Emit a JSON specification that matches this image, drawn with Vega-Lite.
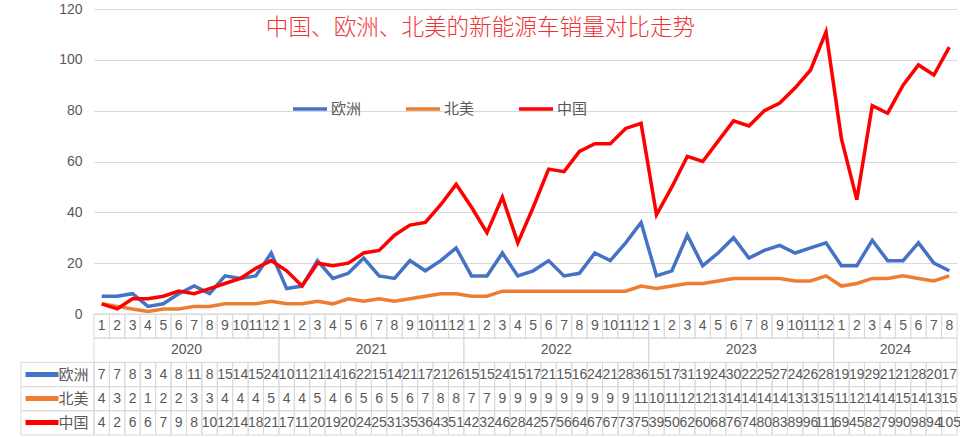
{
  "$schema": "https://vega.github.io/schema/vega-lite/v6.json",
  "width": 863,
  "height": 426,
  "autosize": {"type": "none"},
  "padding": {"left": 94, "top": 9, "right": 3, "bottom": 2},
  "background": "white",
  "title": {"text": "中国、欧洲、北美的新能源车销量对比走势", "color": "#EE3333", "fontSize": 22.6, "font": "Noto Sans CJK SC", "fontWeight": 300, "anchor": "middle", "frame": "group", "offset": -38, "dx": -45},
  "config": {"view": {"stroke": null}, "font": "Liberation Sans"},
  "datasets": {
    "d": [
      {"k":"2020-01","m":1,"欧洲":7,"北美":4,"中国":4},
      {"k":"2020-02","m":2,"欧洲":7,"北美":3,"中国":2},
      {"k":"2020-03","m":3,"欧洲":8,"北美":2,"中国":6},
      {"k":"2020-04","m":4,"欧洲":3,"北美":1,"中国":6},
      {"k":"2020-05","m":5,"欧洲":4,"北美":2,"中国":7},
      {"k":"2020-06","m":6,"欧洲":8,"北美":2,"中国":9},
      {"k":"2020-07","m":7,"欧洲":11,"北美":3,"中国":8},
      {"k":"2020-08","m":8,"欧洲":8,"北美":3,"中国":10},
      {"k":"2020-09","m":9,"欧洲":15,"北美":4,"中国":12},
      {"k":"2020-10","m":10,"欧洲":14,"北美":4,"中国":14},
      {"k":"2020-11","m":11,"欧洲":15,"北美":4,"中国":18},
      {"k":"2020-12","m":12,"欧洲":24,"北美":5,"中国":21},
      {"k":"2021-01","m":1,"欧洲":10,"北美":4,"中国":17},
      {"k":"2021-02","m":2,"欧洲":11,"北美":4,"中国":11},
      {"k":"2021-03","m":3,"欧洲":21,"北美":5,"中国":20},
      {"k":"2021-04","m":4,"欧洲":14,"北美":4,"中国":19},
      {"k":"2021-05","m":5,"欧洲":16,"北美":6,"中国":20},
      {"k":"2021-06","m":6,"欧洲":22,"北美":5,"中国":24},
      {"k":"2021-07","m":7,"欧洲":15,"北美":6,"中国":25},
      {"k":"2021-08","m":8,"欧洲":14,"北美":5,"中国":31},
      {"k":"2021-09","m":9,"欧洲":21,"北美":6,"中国":35},
      {"k":"2021-10","m":10,"欧洲":17,"北美":7,"中国":36},
      {"k":"2021-11","m":11,"欧洲":21,"北美":8,"中国":43},
      {"k":"2021-12","m":12,"欧洲":26,"北美":8,"中国":51},
      {"k":"2022-01","m":1,"欧洲":15,"北美":7,"中国":42},
      {"k":"2022-02","m":2,"欧洲":15,"北美":7,"中国":32},
      {"k":"2022-03","m":3,"欧洲":24,"北美":9,"中国":46},
      {"k":"2022-04","m":4,"欧洲":15,"北美":9,"中国":28},
      {"k":"2022-05","m":5,"欧洲":17,"北美":9,"中国":42},
      {"k":"2022-06","m":6,"欧洲":21,"北美":9,"中国":57},
      {"k":"2022-07","m":7,"欧洲":15,"北美":9,"中国":56},
      {"k":"2022-08","m":8,"欧洲":16,"北美":9,"中国":64},
      {"k":"2022-09","m":9,"欧洲":24,"北美":9,"中国":67},
      {"k":"2022-10","m":10,"欧洲":21,"北美":9,"中国":67},
      {"k":"2022-11","m":11,"欧洲":28,"北美":9,"中国":73},
      {"k":"2022-12","m":12,"欧洲":36,"北美":11,"中国":75},
      {"k":"2023-01","m":1,"欧洲":15,"北美":10,"中国":39},
      {"k":"2023-02","m":2,"欧洲":17,"北美":11,"中国":50},
      {"k":"2023-03","m":3,"欧洲":31,"北美":12,"中国":62},
      {"k":"2023-04","m":4,"欧洲":19,"北美":12,"中国":60},
      {"k":"2023-05","m":5,"欧洲":24,"北美":13,"中国":68},
      {"k":"2023-06","m":6,"欧洲":30,"北美":14,"中国":76},
      {"k":"2023-07","m":7,"欧洲":22,"北美":14,"中国":74},
      {"k":"2023-08","m":8,"欧洲":25,"北美":14,"中国":80},
      {"k":"2023-09","m":9,"欧洲":27,"北美":14,"中国":83},
      {"k":"2023-10","m":10,"欧洲":24,"北美":13,"中国":89},
      {"k":"2023-11","m":11,"欧洲":26,"北美":13,"中国":96},
      {"k":"2023-12","m":12,"欧洲":28,"北美":15,"中国":111},
      {"k":"2024-01","m":1,"欧洲":19,"北美":11,"中国":69},
      {"k":"2024-02","m":2,"欧洲":19,"北美":12,"中国":45},
      {"k":"2024-03","m":3,"欧洲":29,"北美":14,"中国":82},
      {"k":"2024-04","m":4,"欧洲":21,"北美":14,"中国":79},
      {"k":"2024-05","m":5,"欧洲":21,"北美":15,"中国":90},
      {"k":"2024-06","m":6,"欧洲":28,"北美":14,"中国":98},
      {"k":"2024-07","m":7,"欧洲":20,"北美":13,"中国":94},
      {"k":"2024-08","m":8,"欧洲":17,"北美":15,"中国":105}
    ],
    "yr": [
      {"年":"2020","s":"2020-01","e":"2020-12","c":"2020-06"},
      {"年":"2021","s":"2021-01","e":"2021-12","c":"2021-06"},
      {"年":"2022","s":"2022-01","e":"2022-12","c":"2022-06"},
      {"年":"2023","s":"2023-01","e":"2023-12","c":"2023-06"},
      {"年":"2024","s":"2024-01","e":"2024-08","c":"2024-04"}
    ],
    "hd": [
      {"s":"欧洲"},
      {"s":"北美"},
      {"s":"中国"}
    ]
  },
  "layer": [
    {
      "data": {"name": "d"},
      "transform": [{"fold": ["欧洲", "北美", "中国"], "as": ["s", "v"]}],
      "mark": {"type": "line"},
      "encoding": {
        "x": {"field": "k", "type": "ordinal", "bandPosition": 0.5, "scale": {"type": "band", "paddingInner": 0, "paddingOuter": 0}, "axis": null},
        "y": {"field": "v", "type": "quantitative", "scale": {"domain": [0, 120], "range": [305, 0], "nice": false, "zero": true},
          "axis": {"orient": "left", "values": [0, 20, 40, 60, 80, 100, 120], "title": null, "domain": false, "ticks": false, "labelPadding": 12, "labelFontSize": 14, "labelColor": "#595959", "grid": true, "gridColor": "#D9D9D9", "gridWidth": 1}},
        "color": {"field": "s", "type": "nominal", "scale": {"domain": ["欧洲", "北美", "中国"], "range": ["#4472C4", "#ED7D31", "#FF0000"]},
          "legend": {"orient": "none", "legendX": 197, "legendY": 81, "direction": "horizontal", "title": null, "symbolType": "stroke", "symbolSize": 1156, "symbolStrokeWidth": 5, "labelFontSize": 15, "labelColor": "#595959", "labelFont": "Noto Sans CJK SC", "columnPadding": 37, "labelOffset": 2}},
        "strokeWidth": {"field": "s", "type": "nominal", "scale": {"domain": ["欧洲", "北美", "中国"], "range": [3.5, 3.5, 4.5]}, "legend": null}
      }
    },
    {
      "data": {"name": "d"},
      "mark": {"type": "rect", "fill": "white", "fillOpacity": 0, "stroke": "#D9D9D9", "strokeWidth": 1},
      "encoding": {
        "x": {"field": "k", "type": "ordinal"},
        "y": {"datum": "月", "type": "nominal", "scale": {"type": "band", "domain": ["月", "年"], "range": [305, 353.4], "paddingInner": 0, "paddingOuter": 0}, "axis": null}
      }
    },
    {
      "data": {"name": "d"},
      "mark": {"type": "text", "fontSize": 14, "color": "#595959", "baseline": "middle", "align": "center"},
      "encoding": {
        "x": {"field": "k", "type": "ordinal", "bandPosition": 0.5},
        "y": {"datum": "月", "type": "nominal", "bandPosition": 0.5, "scale": {"type": "band", "domain": ["月", "年"], "range": [305, 353.4], "paddingInner": 0, "paddingOuter": 0}, "axis": null},
        "text": {"field": "m"}
      }
    },
    {
      "data": {"name": "yr"},
      "mark": {"type": "rect", "fill": "white", "fillOpacity": 0, "stroke": "#D9D9D9", "strokeWidth": 1},
      "encoding": {
        "x": {"field": "s", "type": "ordinal", "bandPosition": 0},
        "x2": {"field": "e", "bandPosition": 1},
        "y": {"datum": "年", "type": "nominal", "scale": {"type": "band", "domain": ["月", "年"], "range": [305, 353.4], "paddingInner": 0, "paddingOuter": 0}, "axis": null}
      }
    },
    {
      "data": {"name": "yr"},
      "mark": {"type": "text", "fontSize": 14, "color": "#595959", "baseline": "middle", "align": "center"},
      "encoding": {
        "x": {"field": "c", "type": "ordinal", "bandPosition": 1},
        "y": {"datum": "年", "type": "nominal", "bandPosition": 0.5, "scale": {"type": "band", "domain": ["月", "年"], "range": [305, 353.4], "paddingInner": 0, "paddingOuter": 0}, "axis": null},
        "text": {"field": "年"}
      }
    },
    {
      "data": {"name": "hd"},
      "mark": {"type": "rect", "fill": "white", "fillOpacity": 0, "stroke": "#D9D9D9", "strokeWidth": 1, "xOffset": -73},
      "encoding": {
        "x": {"datum": "2020-01", "type": "ordinal", "bandPosition": 0},
        "x2": {"datum": "2020-01", "bandPosition": 0},
        "y": {"field": "s", "type": "nominal", "scale": {"type": "band", "domain": ["欧洲", "北美", "中国"], "range": [353.4, 426], "paddingInner": 0, "paddingOuter": 0}, "axis": null}
      }
    },
    {
      "data": {"name": "d"},
      "transform": [{"fold": ["欧洲", "北美", "中国"], "as": ["s", "v"]}],
      "mark": {"type": "rect", "fill": "white", "fillOpacity": 0, "stroke": "#D9D9D9", "strokeWidth": 1},
      "encoding": {
        "x": {"field": "k", "type": "ordinal"},
        "y": {"field": "s", "type": "nominal", "scale": {"type": "band", "domain": ["欧洲", "北美", "中国"], "range": [353.4, 426], "paddingInner": 0, "paddingOuter": 0}, "axis": null}
      }
    },
    {
      "data": {"name": "d"},
      "transform": [{"fold": ["欧洲", "北美", "中国"], "as": ["s", "v"]}],
      "mark": {"type": "text", "fontSize": 14, "color": "#595959", "baseline": "middle", "align": "center"},
      "encoding": {
        "x": {"field": "k", "type": "ordinal", "bandPosition": 0.5},
        "y": {"field": "s", "type": "nominal", "bandPosition": 0.5, "scale": {"type": "band", "domain": ["欧洲", "北美", "中国"], "range": [353.4, 426], "paddingInner": 0, "paddingOuter": 0},
          "axis": {"orient": "left", "offset": 36, "tickSize": 33, "tickWidth": 5, "tickCap": "butt",
            "tickColor": {"condition": [{"test": "datum.value == '欧洲'", "value": "#4472C4"}, {"test": "datum.value == '北美'", "value": "#ED7D31"}], "value": "#FF0000"},
            "labelPadding": -63, "labelColor": "#595959", "labelFontSize": 15, "labelFont": "Noto Sans CJK SC", "domain": false, "title": null, "grid": false}},
        "text": {"field": "v"}
      }
    }
  ],
  "resolve": {"scale": {"y": "independent"}, "axis": {"y": "independent"}}
}
